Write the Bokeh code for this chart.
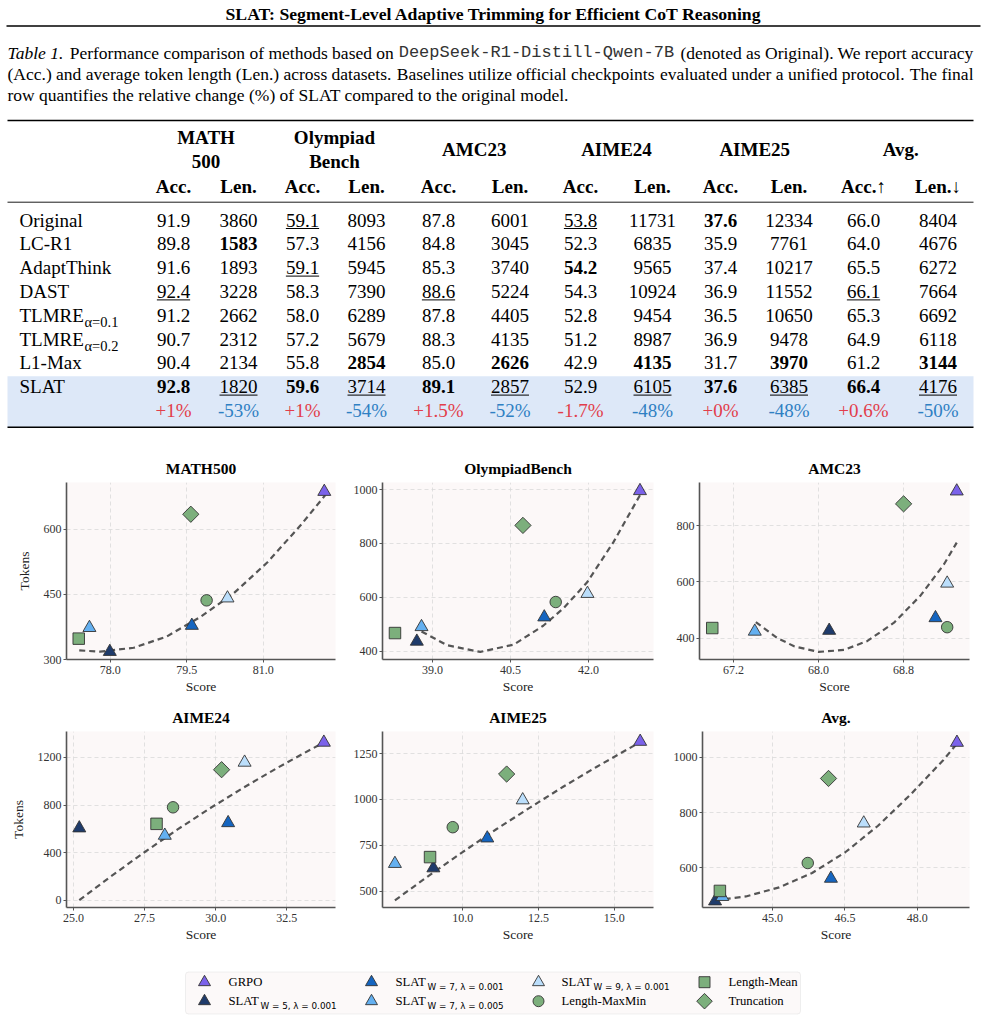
import numpy as np
from bokeh.plotting import figure
from bokeh.models import ColumnDataSource, Range1d, FixedTicker, PrintfTickFormatter, BoxAnnotation
from bokeh.layouts import column, row
from bokeh.embed import file_html
from bokeh.resources import INLINE
from bokeh.core.properties import value, field

SERIF = "Liberation Serif"
MONO = "Liberation Mono"
SANS = "DejaVu Sans"

# ------------------------------------------------------------------ Table 1 data
methods = ["Original", "LC-R1", "AdaptThink", "DAST", "TLMRE", "TLMRE", "L1-Max", "SLAT"]
method_subscripts = ["", "", "", "", "α=0.1", "α=0.2", "", ""]
benchmark_headers = [["MATH", "500"], ["Olympiad", "Bench"], ["AMC23"], ["AIME24"], ["AIME25"], ["Avg."]]
column_headers = ["Acc.", "Len.", "Acc.", "Len.", "Acc.", "Len.", "Acc.", "Len.", "Acc.", "Len.", "Acc.↑", "Len.↓"]

math500_acc = [91.9, 89.8, 91.6, 92.4, 91.2, 90.7, 90.4, 92.8]
math500_len = [3860, 1583, 1893, 3228, 2662, 2312, 2134, 1820]
olympiad_acc = [59.1, 57.3, 59.1, 58.3, 58.0, 57.2, 55.8, 59.6]
olympiad_len = [8093, 4156, 5945, 7390, 6289, 5679, 2854, 3714]
amc23_acc = [87.8, 84.8, 85.3, 88.6, 87.8, 88.3, 85.0, 89.1]
amc23_len = [6001, 3045, 3740, 5224, 4405, 4135, 2626, 2857]
aime24_acc = [53.8, 52.3, 54.2, 54.3, 52.8, 51.2, 42.9, 52.9]
aime24_len = [11731, 6835, 9565, 10924, 9454, 8987, 4135, 6105]
aime25_acc = [37.6, 35.9, 37.4, 36.9, 36.5, 36.9, 31.7, 37.6]
aime25_len = [12334, 7761, 10217, 11552, 10650, 9478, 3970, 6385]
avg_acc = [66.0, 64.0, 65.5, 66.1, 65.3, 64.9, 61.2, 66.4]
avg_len = [8404, 4676, 6272, 7664, 6692, 6118, 3144, 4176]
relative_change = ["+1%", "-53%", "+1%", "-54%", "+1.5%", "-52%", "-1.7%", "-48%", "+0%", "-48%", "+0.6%", "-50%"]

# formatting of cells (row, column)
bold_cells = [(0, 8), (1, 1), (2, 6), (6, 3), (6, 5), (6, 7), (6, 9), (6, 11),
              (7, 0), (7, 2), (7, 4), (7, 8), (7, 10)]
underlined_cells = [(0, 2), (0, 6), (2, 2), (3, 0), (3, 4), (3, 10),
                    (7, 1), (7, 3), (7, 5), (7, 7), (7, 9), (7, 11)]

# ------------------------------------------------------------------ Figure data
series = ["GRPO", "SLAT w5 l0.001", "SLAT w7 l0.001", "SLAT w7 l0.005", "SLAT w9 l0.001",
          "Length-MaxMin", "Length-Mean", "Truncation"]
legend_main = ["GRPO", "SLAT", "SLAT", "SLAT", "SLAT", "Length-MaxMin", "Length-Mean", "Truncation"]
legend_sub = ["", "W = 5, λ = 0.001", "W = 7, λ = 0.001", "W = 7, λ = 0.005", "W = 9, λ = 0.001", "", "", ""]

panel_titles = ["MATH500", "OlympiadBench", "AMC23", "AIME24", "AIME25", "Avg."]

math500_score = [82.20, 77.99, 79.60, 77.59, 80.30, 79.89, 77.38, 79.58]
math500_tokens = [686, 318, 378, 373, 441, 436, 348, 634]
olympiad_score = [42.99, 38.70, 41.15, 38.79, 41.98, 41.37, 38.28, 40.74]
olympiad_tokens = [995, 437, 527, 491, 614, 583, 468, 867]
amc23_score = [69.30, 68.10, 69.10, 67.40, 69.21, 69.21, 67.00, 68.80]
amc23_tokens = [923, 427, 472, 424, 595, 439, 436, 878]
aime24_score = [33.81, 25.20, 30.44, 28.21, 31.02, 28.50, 27.92, 30.21]
aime24_tokens = [1326, 606, 650, 544, 1158, 781, 642, 1097]
aime25_score = [15.86, 9.03, 10.81, 7.76, 11.98, 9.67, 8.92, 11.45]
aime25_tokens = [1315, 625, 788, 649, 996, 848, 685, 1138]
avg_score = [48.82, 43.81, 46.21, 43.96, 46.89, 45.73, 43.91, 46.16]
avg_tokens = [1054, 480, 562, 496, 762, 618, 517, 924]

# dashed trend curves
math500_trend_x = [77.39, 77.80, 78.46, 79.11, 79.77, 80.42, 81.08, 81.73, 82.22]
math500_trend_y = [321, 318, 327, 353, 398, 452, 523, 608, 678]
olympiad_trend_x = [38.79, 39.28, 39.92, 40.56, 41.13, 41.52, 41.97, 42.48, 42.99]
olympiad_trend_y = [474, 423, 398, 425, 495, 560, 655, 805, 979]
amc23_trend_x = [67.41, 67.61, 67.77, 68.00, 68.24, 68.46, 68.71, 68.96, 69.18, 69.30]
amc23_trend_y = [457, 401, 371, 351, 358, 390, 455, 552, 663, 740]
aime24_trend_x = [25.20, 26.30, 27.48, 28.66, 29.83, 31.00, 32.17, 33.34, 33.75]
aime24_trend_y = [0, 198, 401, 595, 777, 949, 1112, 1266, 1317]
aime25_trend_x = [7.76, 8.92, 10.02, 11.12, 12.22, 13.33, 14.43, 15.86]
aime25_trend_y = [449, 588, 715, 838, 955, 1070, 1178, 1312]
avg_trend_x = [44.01, 44.45, 45.14, 45.82, 46.50, 47.18, 47.86, 48.54, 48.82]
avg_trend_y = [487, 497, 530, 582, 656, 752, 866, 991, 1050]

x_ticks = [[78.0, 79.5, 81.0], [39.0, 40.5, 42.0], [67.2, 68.0, 68.8],
           [25.0, 27.5, 30.0, 32.5], [10.0, 12.5, 15.0], [45.0, 46.5, 48.0]]
y_ticks = [[300, 450, 600], [400, 600, 800, 1000], [400, 600, 800],
           [0, 400, 800, 1200], [500, 750, 1000, 1250], [600, 800, 1000]]

# ------------------------------------------------------------------ styles
series_markers = ["triangle"] * 5 + ["circle", "square", "square"]
series_angles = [0.0] * 7 + [np.pi / 4]
series_colors = ["#7B62EA", "#1F3B6B", "#1565C0", "#64B0F0", "#BBDEFB", "#7CAF7C", "#7CAF7C", "#7CAF7C"]
series_sizes = [13, 13, 13, 13, 13, 11.5, 11.5, 11.5]

x_ranges = [(77.14, 82.42), (38.04, 43.25), (66.88, 69.42), (24.75, 34.22), (7.35, 16.30), (43.55, 49.08)]
y_ranges = [(300, 707), (370, 1026), (324, 954), (-61, 1418), (410, 1370), (457, 1094)]

# ================================================================== top: header, caption, table
top = figure(width=986, height=448, x_range=Range1d(0, 986), y_range=Range1d(448, 0),
             x_axis_type=None, y_axis_type=None, output_backend="svg", toolbar_location=None,
             min_border=0, border_fill_color="white", background_fill_color="white")
top.outline_line_color = None
top.grid.visible = False

MID = 0.34  # baseline -> visual middle offset (in em)

def put(fig, x, y, text, size, style="normal", align="left", color="black", font=SERIF):
    # y is the text baseline
    fig.text(x=[x], y=[y - MID * size], text=[text], text_font=value(font), text_font_size=value(f"{size}px"),
             text_font_style=style, text_align=align, text_baseline="middle", text_color=color)

put(top, 493.5, 19.5, "SLAT: Segment-Level Adaptive Trimming for Efficient CoT Reasoning", 17.7, "bold", "center")
top.segment(x0=[6], y0=[25.5], x1=[980], y1=[25.5], line_color="black", line_width=1.3)

CAP = 17.5
put(top, 7, 58, "Table 1.", CAP, "italic")
put(top, 69.2, 58, "Performance comparison of methods based on", CAP)
put(top, 398.2, 58, "DeepSeek-R1-Distill-Qwen-7B", 17, font=MONO, color="#333333")
put(top, 973, 58, "(denoted as Original). We report accuracy", CAP, align="right")
put(top, 7, 79, "(Acc.) and average token length (Len.) across datasets.", CAP)
put(top, 396.3, 79, "Baselines utilize official checkpoints", CAP)
put(top, 659.6, 79, "evaluated under a unified protocol.", CAP)
put(top, 973, 79, "The final", CAP, align="right")
put(top, 7, 100, "row quantifies the relative change (%) of SLAT compared to the original model.", CAP)

# table geometry
TF = 19
col_x = [173, 238, 302, 366, 438, 509.5, 580, 652, 720, 788.5, 863, 937.5]
row_y = [226 + i * 23.8 for i in range(len(methods) + 1)]

top.quad(left=[7], right=[973], top=[375.7], bottom=[426.7], fill_color="#DDE8F8", line_color=None)
top.segment(x0=[7, 7, 7], y0=[120, 201.7, 426.7], x1=[973, 973, 973], y1=[120, 201.7, 426.7],
            line_color="black", line_width=[1.6, 0.9, 1.6])

for g, lines in enumerate(benchmark_headers):
    cx = (col_x[2 * g] + col_x[2 * g + 1]) / 2
    if len(lines) == 2:
        put(top, cx, 143, lines[0], TF, "bold", "center")
        put(top, cx, 167, lines[1], TF, "bold", "center")
    else:
        put(top, cx, 155, lines[0], TF, "bold", "center")
for j, h in enumerate(column_headers):
    put(top, col_x[j], 192, h, TF, "bold", "center")

for i, (m, s) in enumerate(zip(methods, method_subscripts)):
    put(top, 19, row_y[i], m, TF)
    if s:
        put(top, 84, row_y[i] + 5, s, 14.5)

table_columns = [math500_acc, math500_len, olympiad_acc, olympiad_len, amc23_acc, amc23_len,
                 aime24_acc, aime24_len, aime25_acc, aime25_len, avg_acc, avg_len]

def tw(s, size):
    return sum(0.25 if c == "." else 0.5 for c in s) * size

cx_l, cy_l, ct_l, cs_l = [], [], [], []
ux0, ux1, uy = [], [], []
for j, colvals in enumerate(table_columns):
    for i, v in enumerate(colvals):
        txt = f"{v:.1f}" if j % 2 == 0 else f"{int(v)}"
        cx_l.append(col_x[j]); cy_l.append(row_y[i] - MID * TF); ct_l.append(txt)
        cs_l.append("bold" if (i, j) in bold_cells else "normal")
        if (i, j) in underlined_cells:
            w = tw(txt, TF)
            ux0.append(col_x[j] - w / 2); ux1.append(col_x[j] + w / 2); uy.append(row_y[i] + 2.0)
cells = ColumnDataSource(dict(x=cx_l, y=cy_l, t=ct_l, s=cs_l))
top.text(x="x", y="y", text="t", source=cells, text_font=value(SERIF), text_font_size=value(f"{TF}px"),
         text_font_style=field("s"), text_align="center", text_baseline="middle", text_color="black")
top.segment(x0=ux0, y0=uy, x1=ux1, y1=uy, line_color="black", line_width=1)

chg_colors = ["#E23D4B" if j % 2 == 0 else "#2F80C3" for j in range(len(relative_change))]
top.text(x=col_x, y=[row_y[-1] - MID * TF] * len(relative_change), text=relative_change, text_color=chg_colors,
         text_font=value(SERIF), text_font_size=value(f"{TF}px"), text_align="center",
         text_baseline="middle")

# ================================================================== scatter panels
all_scores = [math500_score, olympiad_score, amc23_score, aime24_score, aime25_score, avg_score]
all_tokens = [math500_tokens, olympiad_tokens, amc23_tokens, aime24_tokens, aime25_tokens, avg_tokens]
all_trend_x = [math500_trend_x, olympiad_trend_x, amc23_trend_x, aime24_trend_x, aime25_trend_x, avg_trend_x]
all_trend_y = [math500_trend_y, olympiad_trend_y, amc23_trend_y, aime24_trend_y, aime25_trend_y, avg_trend_y]

col_w = [340, 330, 316]
col_bl = [66, 42, 29]
col_br = [5, 17, 17]
row_h = [249, 253]
row_bt = [34, 34]
row_bb = [38, 43]

panels = []
for k in range(6):
    r, c = divmod(k, 3)
    p = figure(width=col_w[c], height=row_h[r], x_range=Range1d(*x_ranges[k]), y_range=Range1d(*y_ranges[k]),
               output_backend="svg", toolbar_location=None, title=panel_titles[k],
               min_border_left=col_bl[c], min_border_right=col_br[c],
               min_border_top=row_bt[r], min_border_bottom=row_bb[r],
               background_fill_color="#FCF8F8", border_fill_color="white")
    p.outline_line_color = None
    p.title.align = "center"
    p.title.text_font = SERIF
    p.title.text_font_style = "bold"
    p.title.text_font_size = "15.5px"
    p.title.text_color = "black"
    p.title.standoff = 12
    p.xaxis.ticker = FixedTicker(ticks=x_ticks[k])
    p.yaxis.ticker = FixedTicker(ticks=y_ticks[k])
    p.xaxis.formatter = PrintfTickFormatter(format="%.1f")
    p.yaxis.formatter = PrintfTickFormatter(format="%d")
    p.xaxis.axis_label = "Score"
    if c == 0:
        p.yaxis.axis_label = "Tokens"
    for ax in (p.xaxis[0], p.yaxis[0]):
        ax.axis_line_color = "#555555"
        ax.axis_line_width = 1.6
        ax.major_tick_line_color = "#555555"
        ax.major_tick_out = 3
        ax.major_tick_in = 0
        ax.minor_tick_out = 0
        ax.minor_tick_in = 0
        ax.major_label_text_font = SERIF
        ax.major_label_text_font_size = "12px"
        ax.major_label_text_color = "#333333"
        ax.axis_label_text_font = SERIF
        ax.axis_label_text_font_size = "13.5px"
        ax.axis_label_text_font_style = "normal"
        ax.axis_label_text_color = "#222222"
    p.xaxis.major_label_standoff = 3
    p.xaxis.axis_label_standoff = 2
    p.yaxis.major_label_standoff = 2
    p.yaxis.axis_label_standoff = 9
    p.grid.grid_line_color = "#D9D9D9"
    p.grid.grid_line_dash = "4 3"
    p.grid.grid_line_width = 0.8

    p.line(all_trend_x[k], all_trend_y[k], line_color="#555555", line_width=2.2, line_dash="6 4")
    src = ColumnDataSource(dict(x=all_scores[k], y=all_tokens[k], marker=series_markers,
                                color=series_colors, size=series_sizes, angle=series_angles, name=series))
    p.scatter(x="x", y="y", marker=field("marker"), size="size", angle="angle", fill_color="color",
              line_color="#333333", line_width=0.9, source=src)
    panels.append(p)

# ================================================================== legend
leg = figure(width=986, height=86, x_range=Range1d(0, 986), y_range=Range1d(1036, 950),
             x_axis_type=None, y_axis_type=None, output_backend="svg", toolbar_location=None,
             min_border=0, border_fill_color="white", background_fill_color="white")
leg.outline_line_color = None
leg.grid.visible = False
leg.add_layout(BoxAnnotation(left=185, right=800, top=971.5, bottom=1013.5, fill_color="#FCF9F9",
                             fill_alpha=1, line_color="#CCCCCC", line_width=1, border_radius=3,
                             level="underlay"))
lx_marker = [204, 371, 538, 704]
lx_text = [228, 395, 561, 728]
ly_row = [981.7, 1000.7]
mk_x, mk_y = [], []
for idx in range(len(series)):
    c, r = divmod(idx, 2)
    mk_x.append(lx_marker[c]); mk_y.append(ly_row[r])
    base = ly_row[r] + 4.3
    put(leg, lx_text[c], base, legend_main[idx], 12.7)
    if legend_sub[idx]:
        put(leg, lx_text[c] + 32, base + 3, legend_sub[idx], 8.8, font=SANS)
leg.scatter(x=mk_x, y=mk_y, marker=series_markers, angle=series_angles, fill_color=series_colors,
            size=[12, 12, 12, 12, 12, 11, 11, 11], line_color="#333333", line_width=0.9)

layout = column(top, row(*panels[:3]), row(*panels[3:]), leg)
open("out.html", "w").write(file_html(layout, INLINE))
